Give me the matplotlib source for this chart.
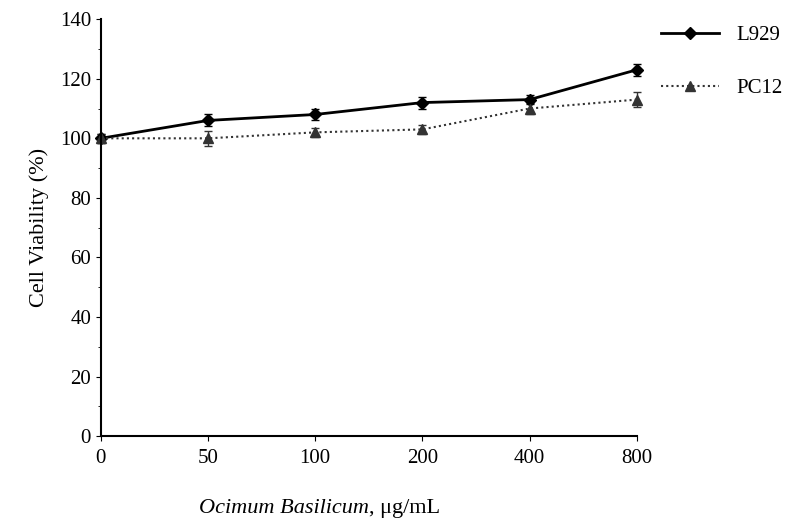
import matplotlib
matplotlib.use("Agg")
import matplotlib.pyplot as plt
from matplotlib.ticker import MultipleLocator
from matplotlib.lines import Line2D

categories = ["0", "50", "100", "200", "400", "800"]
l929 = [100, 106, 108, 112, 113, 123]
l929_err = [1.5, 2, 2, 2, 1.5, 2]
pc12 = [100, 100, 102, 103, 110, 113]
pc12_err = [1.5, 2.5, 1.5, 1.5, 2, 2.5]

plt.rcParams["font.family"] = "Liberation Serif"
fig = plt.figure(figsize=(7.94, 5.32), dpi=100)
ax = fig.add_axes([0.127, 0.180, 0.675, 0.784])
x = list(range(len(categories)))
e1 = ax.errorbar(x, l929, yerr=l929_err, color="black", lw=2, marker="D", ms=6,
                 capsize=3, elinewidth=1)
e2 = ax.errorbar(x, pc12, yerr=pc12_err, color="#333333", lw=1.5, ls=(0, (1, 1.5)),
                 marker="^", ms=7, capsize=3, elinewidth=1)
for e in (e1, e2):
    for art in e.get_children():
        art.set_clip_on(False)
ax.set_xlim(0, 5)
ax.set_ylim(0, 140)
ax.set_xticks(x)
ax.set_xticklabels(categories)
ax.yaxis.set_major_locator(MultipleLocator(20))
ax.yaxis.set_minor_locator(MultipleLocator(10))
ax.tick_params(labelsize=15)
ax.tick_params(axis="x", pad=6)
for s in ["top", "right"]:
    ax.spines[s].set_visible(False)
for s in ["left", "bottom"]:
    ax.spines[s].set_linewidth(1.5)
ax.set_ylabel("Cell Viability (%)", fontsize=16, labelpad=8)
fig.text(0.465, 0.035, "Ocimum Basilicum", fontsize=16, style="italic", ha="right")
fig.text(0.465, 0.035, ", μg/mL", fontsize=16, ha="left")
handles = [Line2D([], [], color="black", lw=2, marker="D", ms=6),
           Line2D([], [], color="#333333", lw=1.5, ls=(0, (1, 1.5)), marker="^", ms=7)]
ax.legend(handles, ["L929", "PC12"], loc="upper left", bbox_to_anchor=(1.01, 1.03),
          frameon=False, fontsize=15, labelspacing=1.6, handlelength=2.8)
fig.savefig("out.png", dpi=100)
